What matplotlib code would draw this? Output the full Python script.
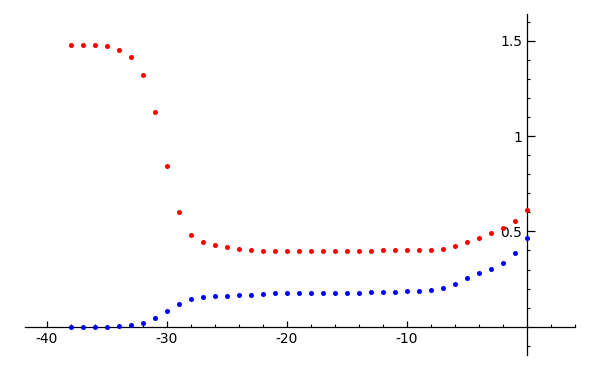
import matplotlib
matplotlib.use("Agg")
import matplotlib.pyplot as plt
from matplotlib.ticker import MultipleLocator, FixedLocator

# sample positions, one per integer
xs = list(range(-38, 1))

red_vals = [1.479, 1.479, 1.476, 1.471, 1.453, 1.415, 1.320, 1.126, 0.844, 0.600,
            0.481, 0.443, 0.429, 0.418, 0.410, 0.401, 0.397, 0.397, 0.397, 0.397,
            0.397, 0.397, 0.397, 0.397, 0.397, 0.399, 0.401, 0.401, 0.401, 0.401,
            0.401, 0.406, 0.422, 0.445, 0.466, 0.490, 0.516, 0.556, 0.611]

blue_vals = [0.000, 0.000, 0.000, 0.000, 0.003, 0.008, 0.019, 0.045, 0.084, 0.121,
             0.146, 0.156, 0.161, 0.163, 0.165, 0.168, 0.172, 0.176, 0.177, 0.179,
             0.179, 0.179, 0.179, 0.179, 0.179, 0.181, 0.182, 0.184, 0.186, 0.189,
             0.193, 0.203, 0.226, 0.256, 0.280, 0.303, 0.335, 0.389, 0.464]

x_ticks = [-40, -30, -20, -10]
x_labels = ["-40", "-30", "-20", "-10"]
y_ticks = [0.5, 1.0, 1.5]
y_labels = ["0.5", "1", "1.5"]

plt.rcParams["axes.unicode_minus"] = False
plt.rcParams["font.family"] = "DejaVu Sans"

fig = plt.figure(figsize=(6, 3.7), dpi=100)
ax = fig.add_axes([25 / 600, 15 / 370, 550 / 600, 341 / 370])

ax.scatter(xs, red_vals, s=13, color="#ff0000", linewidths=0, zorder=3)
ax.scatter(xs, blue_vals, s=13, color="#0000ff", linewidths=0, zorder=3)

ax.set_xlim(-41.8, 4.0)
ax.set_ylim(-0.148, 1.64)

ax.spines["left"].set_position(("data", 0))
ax.spines["bottom"].set_position(("data", 0))
ax.spines["top"].set_visible(False)
ax.spines["right"].set_visible(False)
for sp in ("left", "bottom"):
    ax.spines[sp].set_linewidth(0.9)

ax.xaxis.set_major_locator(FixedLocator(x_ticks))
ax.set_xticklabels(x_labels)
ax.xaxis.set_minor_locator(MultipleLocator(2))
ax.yaxis.set_major_locator(FixedLocator(y_ticks))
ax.set_yticklabels(y_labels)
ax.yaxis.set_minor_locator(MultipleLocator(0.1))

ax.tick_params(axis="x", which="major", direction="in", length=4, width=0.9,
               labelsize=10, pad=3.5)
ax.tick_params(axis="x", which="minor", direction="in", length=2, width=0.8)
ax.tick_params(axis="y", which="major", direction="in", length=6, width=0.9,
               labelsize=10, pad=3.5)
ax.tick_params(axis="y", which="minor", direction="in", length=2, width=0.8)

fig.savefig("out.png", dpi=100)
plt.close(fig)
